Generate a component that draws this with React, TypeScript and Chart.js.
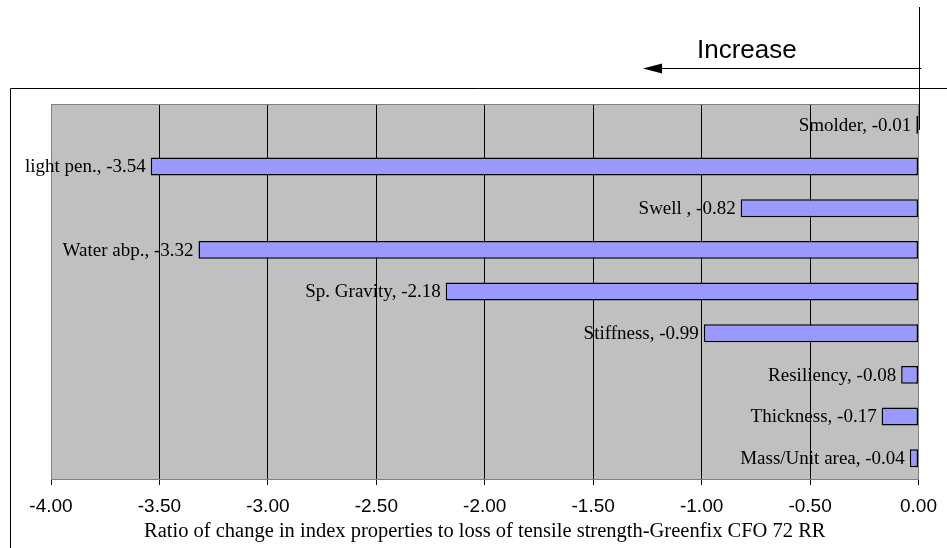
import { useEffect, useRef } from "react";
import { Chart, registerables } from "chart.js";

Chart.register(...registerables);

// Index properties, top to bottom
const categories = [
  "Smolder",
  "light pen.",
  "Swell ",
  "Water abp.",
  "Sp. Gravity",
  "Stiffness",
  "Resiliency",
  "Thickness",
  "Mass/Unit area",
];

// Ratio of change to loss of tensile strength
const ratios = [-0.01, -3.54, -0.82, -3.32, -2.18, -0.99, -0.08, -0.17, -0.04];

const xMin = -4;
const xMax = 0;
const xStep = 0.5;

const axisTitle =
  "Ratio of change in index properties to loss of tensile strength-Greenfix CFO 72 RR";
const arrowText = "Increase";

const SERIF = "'Liberation Serif', 'Times New Roman', serif";
const SANS = "'Liberation Sans', Arial, sans-serif";

const decorPlugin = {
  id: "decor",
  beforeDraw(chart: any) {
    const { ctx, chartArea } = chart;
    ctx.save();
    ctx.fillStyle = "#ffffff";
    ctx.fillRect(0, 0, chart.width, chart.height);
    ctx.fillStyle = "#c0c0c0";
    ctx.fillRect(
      chartArea.left,
      chartArea.top,
      chartArea.right - chartArea.left,
      chartArea.bottom - chartArea.top
    );
    ctx.restore();
  },
  afterDraw(chart: any) {
    const { ctx, chartArea } = chart;
    const xScale = chart.scales.x;
    ctx.save();

    // plot frame top edge
    ctx.strokeStyle = "#808080";
    ctx.lineWidth = 1;
    ctx.beginPath();
    ctx.moveTo(chartArea.left, Math.round(chartArea.top) + 0.5);
    ctx.lineTo(chartArea.right, Math.round(chartArea.top) + 0.5);
    ctx.stroke();

    // value labels left of each bar
    const meta = chart.getDatasetMeta(0);
    ctx.fillStyle = "#000";
    ctx.font = `19px ${SERIF}`;
    ctx.textAlign = "right";
    ctx.textBaseline = "middle";
    meta.data.forEach((el: any, i: number) => {
      const left = Math.min(el.x, el.base);
      ctx.fillText(`${categories[i]}, ${ratios[i].toFixed(2)}`, left - 5, el.y + 1);
    });

    // outer frame
    ctx.strokeStyle = "#000";
    ctx.lineWidth = 1;
    ctx.beginPath();
    ctx.moveTo(10.5, chart.height);
    ctx.lineTo(10.5, 88.5);
    ctx.lineTo(chart.width, 88.5);
    ctx.stroke();

    // direction marker at zero
    const x0 = Math.round(xScale.getPixelForValue(0)) + 0.5;
    ctx.beginPath();
    ctx.moveTo(x0, 7);
    ctx.lineTo(x0, chartArea.top + 26);
    ctx.stroke();

    const ay = 68.5;
    const tipX = xScale.getPixelForValue(-1.27);
    ctx.beginPath();
    ctx.moveTo(x0 + 2, ay);
    ctx.lineTo(tipX + 16, ay);
    ctx.stroke();
    ctx.fillStyle = "#000";
    ctx.beginPath();
    ctx.moveTo(tipX, ay);
    ctx.lineTo(tipX + 19, ay - 5);
    ctx.lineTo(tipX + 19, ay + 5);
    ctx.closePath();
    ctx.fill();

    ctx.font = `26px ${SANS}`;
    ctx.textAlign = "left";
    ctx.textBaseline = "alphabetic";
    ctx.fillText(arrowText, 697, 58);

    ctx.restore();
  },
};

export default function App() {
  const canvasRef = useRef<HTMLCanvasElement | null>(null);

  useEffect(() => {
    document.body.style.margin = "0";
    const canvas = canvasRef.current;
    if (!canvas) return;
    const chart = new Chart(canvas, {
      type: "bar",
      data: {
        labels: categories,
        datasets: [
          {
            data: ratios,
            backgroundColor: "#9999ff",
            borderColor: "#000000",
            borderWidth: 1.5,
            borderSkipped: false,
            barPercentage: 0.43,
            categoryPercentage: 1,
          },
        ],
      },
      options: {
        indexAxis: "y",
        animation: false,
        responsive: false,
        layout: { padding: { left: 51, right: 28, top: 104, bottom: 0 } },
        plugins: {
          legend: { display: false },
          tooltip: { enabled: false },
        },
        scales: {
          x: {
            type: "linear",
            min: xMin,
            max: xMax,
            afterFit(scale: any) {
              scale.height = 69;
            },
            ticks: {
              stepSize: xStep,
              color: "#000",
              font: { family: SANS, size: 19 },
              padding: 10,
              maxRotation: 0,
              callback: (v: any) => Number(v).toFixed(2),
            },
            grid: {
              color: (c: any) =>
                c.tick && (c.tick.value === xMin || c.tick.value === xMax) ? "#808080" : "#000000",
              lineWidth: 1,
              tickLength: 6,
              tickColor: "#000000",
            },
            border: { display: true, color: "#808080" },
            title: {
              display: true,
              text: axisTitle,
              color: "#000",
              font: { family: SERIF, size: 20.5 },
              padding: { top: 0, bottom: 4 },
            },
          },
          y: {
            display: false,
            grid: { display: false },
          },
        },
      },
      plugins: [decorPlugin],
    });
    return () => chart.destroy();
  }, []);

  return (
    <div style={{ position: "absolute", left: 0, top: 0, width: 947, height: 548 }}>
      <canvas ref={canvasRef} width={947} height={548} style={{ display: "block" }} />
    </div>
  );
}
